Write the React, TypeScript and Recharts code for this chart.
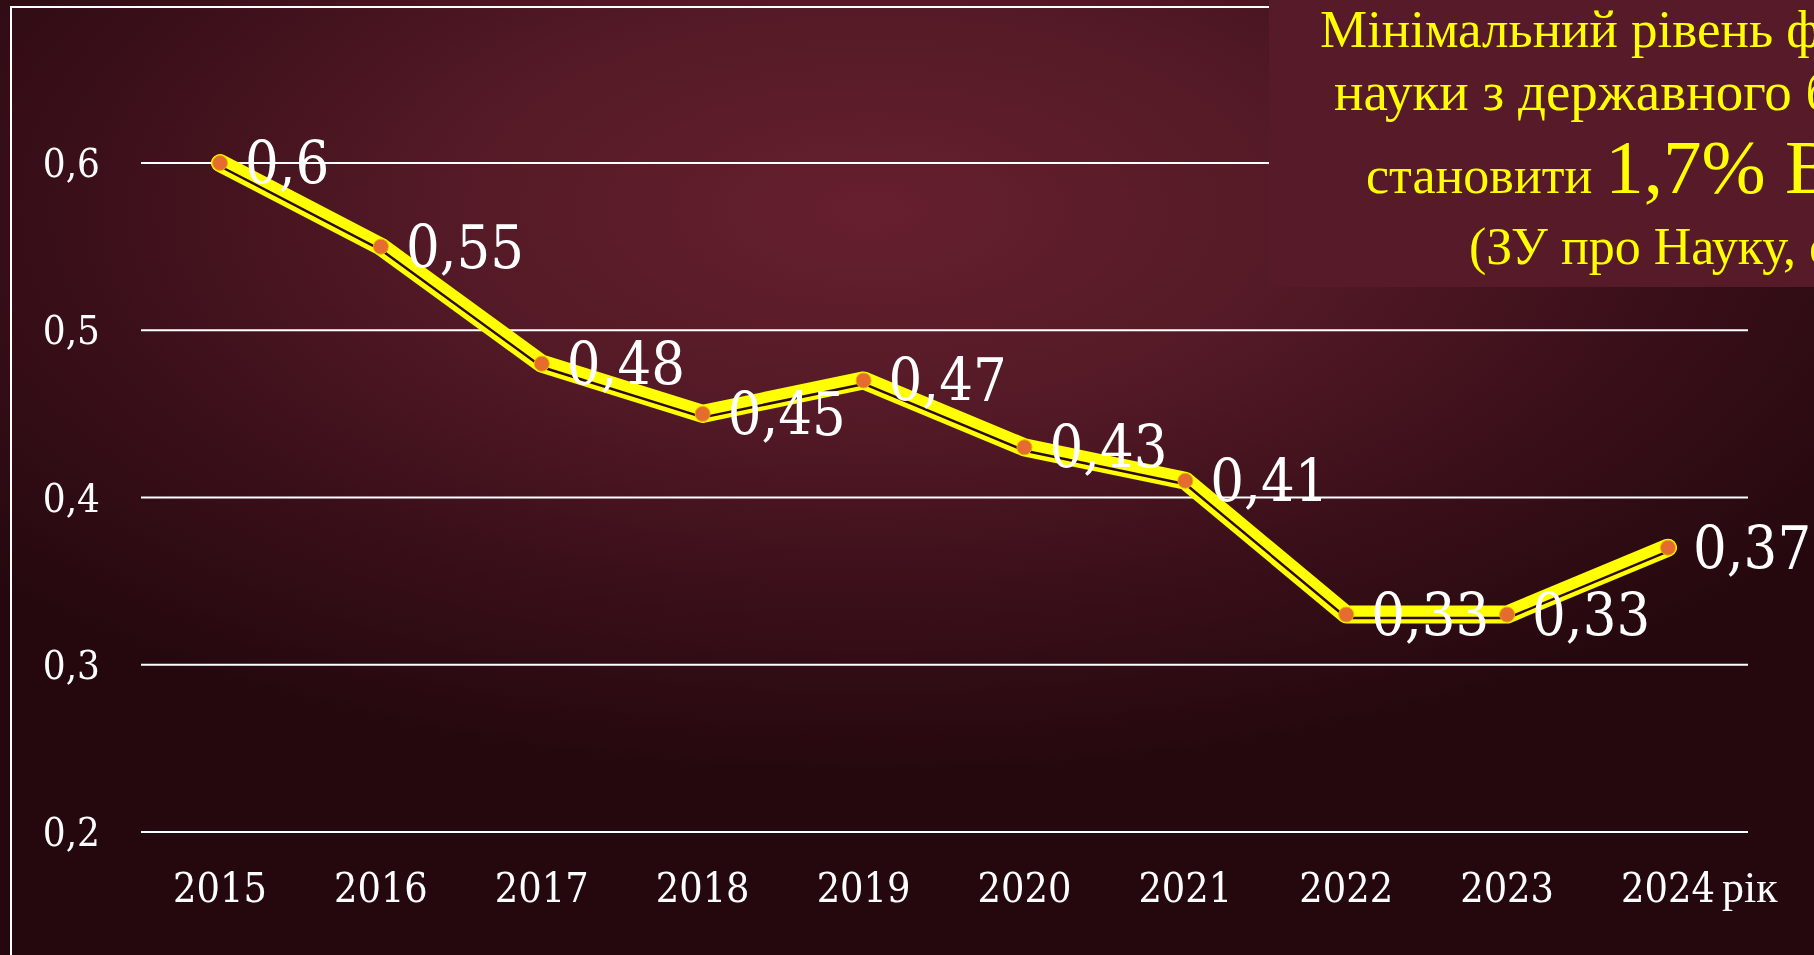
import { CartesianGrid, LabelList, Line, LineChart, XAxis, YAxis } from "recharts";

const years = ["2015", "2016", "2017", "2018", "2019", "2020", "2021", "2022", "2023", "2024"];
const shares = [0.6, 0.55, 0.48, 0.45, 0.47, 0.43, 0.41, 0.33, 0.33, 0.37];
const yTicks = [0.2, 0.3, 0.4, 0.5, 0.6];
const yearUnit = "рік";

const titleLines = [
  "Мінімальний рівень фінансування",
  "науки з державного бюджету має",
  "становити ",
  "(ЗУ про Науку, ст. 48)",
];
const titleHighlight = "1,7% ВВП";

const data = years.map((year, i) => ({ year, value: shares[i] }));

const comma = (v: number | string) => String(v).replace(".", ",");

const YELLOW = "#FFFF00";
const NUM_FONT = "'DejaVu Serif Condensed', 'DejaVu Serif', serif";
const numStyle = { fontStretch: "condensed" as const };

function YearTick({ x, y, payload }: any) {
  const last = payload.value === years[years.length - 1];
  return (
    <g>
      <text x={x} y={y + 70} textAnchor="middle" fill="#fff" fontSize={41} fontFamily={NUM_FONT} style={numStyle}>
        {payload.value}
      </text>
      {last ? (
        <text x={x + 54} y={y + 70} textAnchor="start" fill="#fff" fontSize={44} fontFamily="'Liberation Serif', serif">
          {yearUnit}
        </text>
      ) : null}
    </g>
  );
}

function TitleBox() {
  const font = "'Liberation Serif', 'Times New Roman', serif";
  return (
    <svg width={560} height={287} style={{ position: "absolute", left: 1269, top: 0, background: "#561a28" }}>
      <text x={51} y={47} fill={YELLOW} fontSize={53} fontFamily={font}>{titleLines[0]}</text>
      <text x={65} y={110} fill={YELLOW} fontSize={55} fontFamily={font}>{titleLines[1]}</text>
      <text x={97} y={193} fill={YELLOW} fontSize={52} fontFamily={font}>
        <tspan>{titleLines[2]}</tspan>
        <tspan fontSize={77}>{titleHighlight}</tspan>
      </text>
      <text x={200} y={264} fill={YELLOW} fontSize={52} fontFamily={font}>{titleLines[3]}</text>
    </svg>
  );
}

export default function App() {
  return (
    <div
      style={{
        position: "fixed",
        left: 0,
        top: 0,
        width: 1814,
        height: 955,
        overflow: "hidden",
        background:
          "radial-gradient(ellipse 65% 60% at 48% 22%, #661f2e 0%, #551a27 35%, #3a0f19 68%, #24080d 100%)",
      }}
    >
      <style>{`.shadow-line .recharts-line-curve { transform: translate(0.5px, 3.5px); }`}</style>
      <div style={{ position: "absolute", left: 10, top: 6, width: 2000, height: 2000, border: "2px solid #fff" }} />
      <div style={{ position: "absolute", left: 0, top: 0 }}>
        <LineChart width={1814} height={955} data={data} margin={{ top: 163, right: 66, bottom: 0, left: 0 }}>
          <CartesianGrid vertical={false} stroke="#fff" strokeWidth={2} />
          <XAxis
            dataKey="year"
            axisLine={false}
            tickLine={false}
            tickSize={0}
            tickMargin={0}
            height={123}
            interval={0}
            padding={{ left: 79, right: 80 }}
            tick={<YearTick />}
          />
          <YAxis
            domain={[0.2, 0.6]}
            ticks={yTicks}
            width={141}
            axisLine={false}
            tickLine={false}
            tickSize={0}
            tickMargin={41}
            tickFormatter={(v) => comma(v)}
            tick={{ fill: "#fff", fontSize: 40, fontFamily: NUM_FONT, style: numStyle }}
          />
          <Line
            dataKey="value"
            stroke={YELLOW}
            strokeWidth={18}
            strokeLinecap="round"
            strokeLinejoin="round"
            dot={false}
            activeDot={false}
            isAnimationActive={false}
          />
          <Line
            className="shadow-line"
            dataKey="value"
            stroke="#2d0a10"
            strokeWidth={2.5}
            strokeLinejoin="round"
            dot={{ r: 7.5, fill: "#E36C2E", stroke: "#F0B000", strokeWidth: 1 }}
            activeDot={false}
            isAnimationActive={false}
          >
            <LabelList
              dataKey="value"
              position="right"
              offset={25}
              formatter={(v: any) => comma(v)}
              fill="#fff"
              fontSize={59}
              fontFamily={NUM_FONT}
              style={numStyle}
            />
          </Line>
        </LineChart>
      </div>
      <TitleBox />
    </div>
  );
}
